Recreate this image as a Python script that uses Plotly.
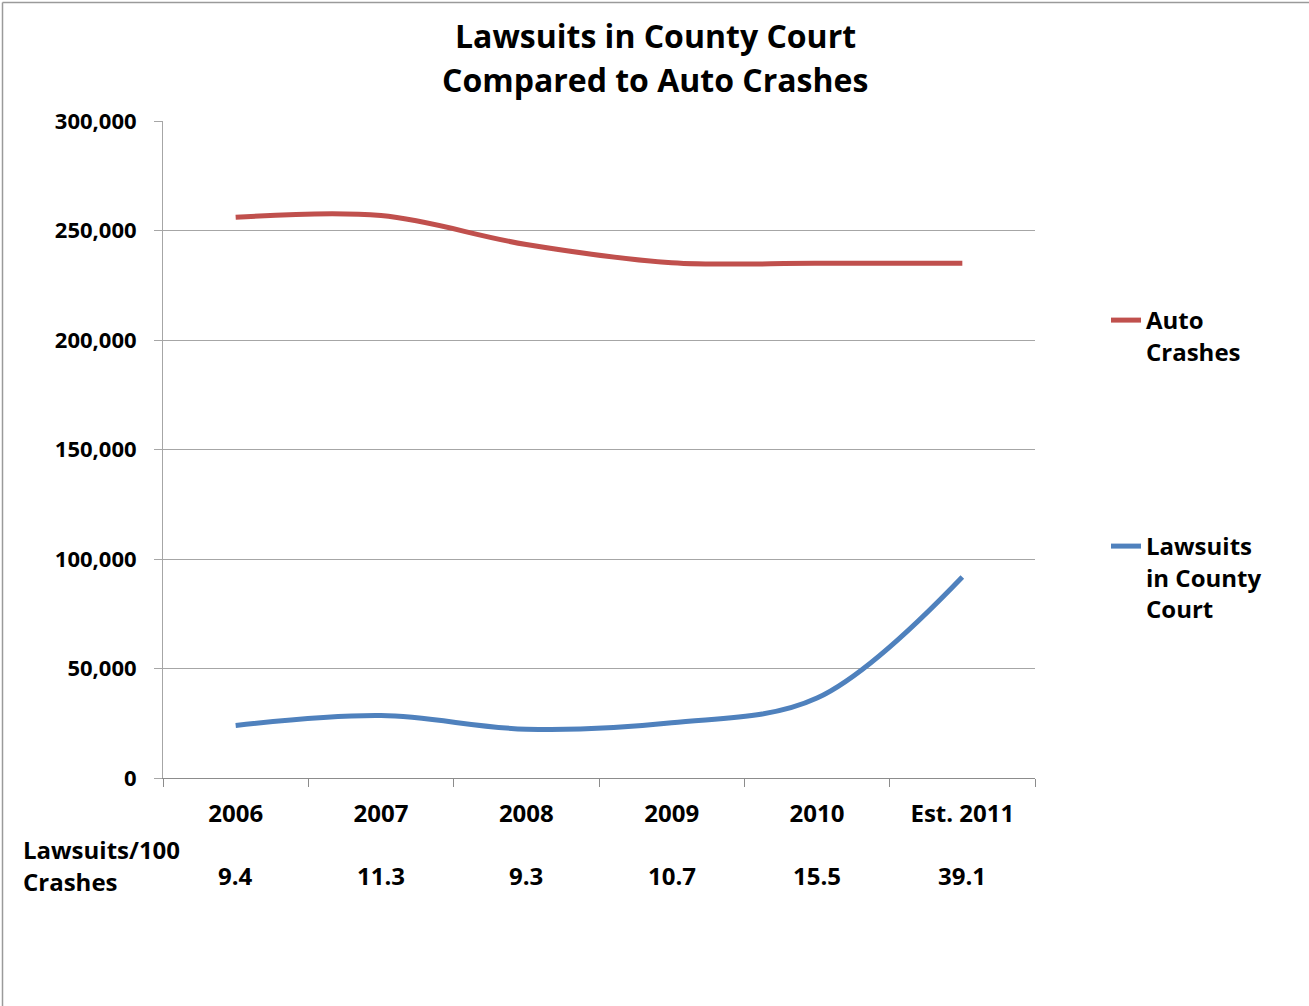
import plotly.graph_objects as go

categories = ["2006", "2007", "2008", "2009", "2010", "Est. 2011"]
auto_crashes = [256000, 256800, 243600, 235300, 235000, 235000]
lawsuits = [24000, 28500, 22300, 25200, 36500, 91800]
ratio = ["9.4", "11.3", "9.3", "10.7", "15.5", "39.1"]
y_ticks = [0, 50000, 100000, 150000, 200000, 250000, 300000]
y_tick_labels = ["0", "50,000", "100,000", "150,000", "200,000", "250,000", "300,000"]
title_lines = ["Lawsuits in County Court", "Compared to Auto Crashes"]
ratio_label = ["Lawsuits/100", "Crashes"]

FONT = "Open Sans, sans-serif"
W, H = 1309, 1006
L, R, T, B = 163, 274, 121, 228
pw, ph = W - L - R, H - T - B

def px(x):
    return (x - L) / pw

def py(y):
    return 1 - (y - T) / ph

fig = go.Figure()
fig.add_trace(go.Scatter(
    x=categories, y=auto_crashes, mode="lines", name="<b>Auto<br>Crashes</b>",
    line=dict(color="#C0504D", width=5, shape="spline", smoothing=1.0),
    legend="legend"))
fig.add_trace(go.Scatter(
    x=categories, y=lawsuits, mode="lines", name="<b>Lawsuits<br>in County<br>Court</b>",
    line=dict(color="#4F81BD", width=5, shape="spline", smoothing=1.0),
    legend="legend2"))

annotations = []
for t, yy in zip(title_lines, [35, 80]):
    annotations.append(dict(
        text="<b>%s</b>" % t, xref="paper", yref="paper", x=px(655), y=py(yy),
        xanchor="center", yanchor="middle", showarrow=False,
        font=dict(family=FONT, size=32, color="black")))
for t, yy in zip(ratio_label, [849, 881]):
    annotations.append(dict(
        text="<b>%s</b>" % t, xref="paper", yref="paper",
        x=px(21), y=py(yy), xanchor="left", yanchor="middle", align="left",
        showarrow=False, font=dict(family=FONT, size=24, color="black")))
for i, r in enumerate(ratio):
    annotations.append(dict(
        text="<b>%s</b>" % r, x=i, xref="x", yref="paper", y=py(875),
        xanchor="center", yanchor="middle", showarrow=False,
        font=dict(family=FONT, size=24, color="black")))

shapes = [
    dict(type="line", xref="paper", yref="paper", x0=px(2.5), x1=px(2.5), y0=py(2.5), y1=py(1010),
         line=dict(color="#9a9a9a", width=1.5)),
    dict(type="line", xref="paper", yref="paper", x0=px(2.5), x1=px(1312), y0=py(2.5), y1=py(2.5),
         line=dict(color="#9a9a9a", width=1.5)),
]

fig.update_layout(
    width=W, height=H, margin=dict(l=L, r=R, t=T, b=B),
    paper_bgcolor="white", plot_bgcolor="white",
    font=dict(family=FONT, color="black"),
    annotations=annotations, shapes=shapes,
    showlegend=True,
    legend=dict(x=px(1106), y=py(298), xanchor="left", yanchor="top", valign="top",
                bgcolor="rgba(0,0,0,0)", font=dict(family=FONT, size=24, color="black"),
                itemwidth=30, tracegroupgap=0),
    legend2=dict(x=px(1106), y=py(524), xanchor="left", yanchor="top", valign="top",
                 bgcolor="rgba(0,0,0,0)", font=dict(family=FONT, size=24, color="black"),
                 itemwidth=30, tracegroupgap=0),
    xaxis=dict(type="category", range=[-0.5, 5.5], showgrid=False,
               showline=True, linecolor="#8c8c8c", linewidth=1,
               ticks="outside", ticklen=8, tickcolor="#8c8c8c", tickson="boundaries",
               ticklabelstandoff=14,
               tickfont=dict(family=FONT, size=24, color="black"),
               tickprefix="<b>", ticksuffix="</b>", fixedrange=True),
    yaxis=dict(range=[0, 300000], tickvals=y_ticks,
               ticktext=["<b>%s</b>" % t for t in y_tick_labels],
               showgrid=True, gridcolor="#a6a6a6", gridwidth=1,
               showline=True, linecolor="#a6a6a6", linewidth=1,
               ticks="outside", ticklen=8, tickcolor="#a6a6a6",
               ticklabelstandoff=13, zeroline=False,
               tickfont=dict(family=FONT, size=22, color="black"), fixedrange=True),
)

fig.write_html("out.html")
